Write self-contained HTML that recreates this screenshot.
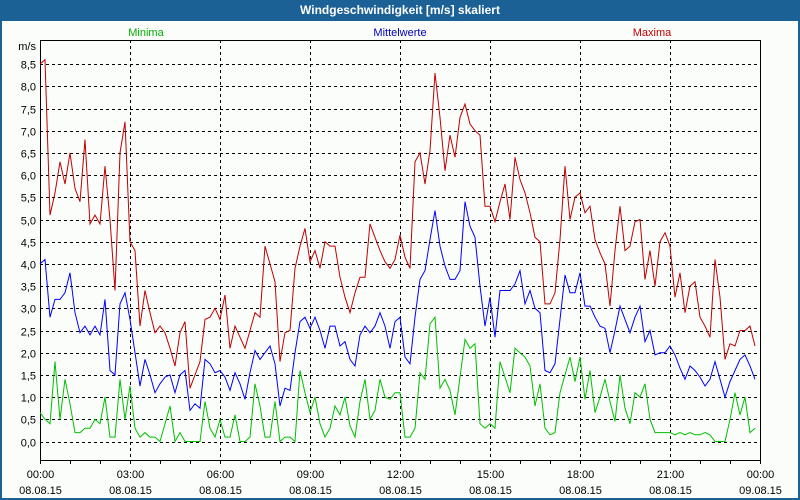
<!DOCTYPE html>
<html><head><meta charset="utf-8"><style>
html,body{margin:0;padding:0;background:#fff}
#wrap{position:relative;width:800px;height:500px;overflow:hidden;background:#fbfdfb;box-sizing:border-box;border:2px solid #1c6196;border-top:none}
#title{position:absolute;left:-2px;top:0;width:800px;height:21px;background:#1c6196;color:#fff;font:bold 12px "Liberation Sans",sans-serif;text-align:center;line-height:21px}
svg{position:absolute;left:-2px;top:0}
text{font-family:"Liberation Sans",sans-serif;font-size:11px}
</style></head><body>
<div id="wrap">
<div id="title">Windgeschwindigkeit [m/s] skaliert</div>
<svg id="chart" width="800" height="500"></svg>
</div>
<script>
const yTicks=[0,0.5,1,1.5,2,2.5,3,3.5,4,4.5,5,5.5,6,6.5,7,7.5,8,8.5];
const xTickHours=[0,3,6,9,12,15,18,21,24];
const xTickTimes=["00:00","03:00","06:00","09:00","12:00","15:00","18:00","21:00","00:00"];
const xTickDates=["08.08.15","08.08.15","08.08.15","08.08.15","08.08.15","08.08.15","08.08.15","08.08.15","09.08.15"];
const stepMinutes=10;
const maxima=[8.5,8.6,5.1,5.6,6.3,5.8,6.5,5.7,5.4,6.8,4.9,5.1,4.9,6.2,5.0,3.4,6.5,7.2,4.5,4.3,2.6,3.4,2.9,2.45,2.6,2.45,2.1,1.7,2.45,2.7,1.2,1.5,1.8,2.75,2.8,3.0,2.75,3.3,2.1,2.6,2.35,2.1,2.5,2.9,2.8,4.4,4.0,3.6,1.8,2.45,2.5,3.9,4.4,4.8,4.05,4.3,3.9,4.5,4.4,4.4,3.7,3.25,2.9,3.35,3.7,3.7,4.9,4.6,4.3,4.05,3.9,4.1,4.65,4.15,3.9,6.3,6.5,5.8,6.55,8.3,7.3,6.1,6.9,6.4,7.3,7.6,7.15,7.0,6.9,5.3,5.3,4.95,5.4,5.8,5.0,6.4,5.9,5.6,5.15,4.6,4.5,3.1,3.1,3.35,4.55,6.2,5.0,5.5,5.6,5.15,5.3,4.55,4.25,4.0,3.05,4.3,5.3,4.3,4.4,4.95,5.0,3.65,4.3,3.5,4.5,4.7,4.4,3.25,3.8,2.9,3.5,3.6,2.8,2.6,2.35,4.1,3.25,1.85,2.2,2.15,2.5,2.5,2.6,2.15];
const mittelwerte=[4.0,4.1,2.8,3.2,3.2,3.35,3.8,2.9,2.45,2.6,2.4,2.6,2.4,3.2,1.6,1.5,3.1,3.35,2.75,2.0,1.25,1.85,1.5,1.1,1.3,1.45,1.5,1.1,1.5,1.6,0.7,0.85,0.75,1.85,1.75,1.55,1.6,1.45,1.15,1.55,1.3,0.95,1.55,2.05,1.85,2.0,2.15,1.75,0.8,1.2,1.15,2.0,2.7,2.8,2.55,2.8,2.5,2.1,2.6,2.6,2.15,2.25,1.85,1.7,2.4,2.6,2.45,2.6,2.9,2.6,2.1,2.7,2.8,1.9,1.75,2.8,3.65,3.85,4.55,5.2,4.4,3.95,3.65,3.65,3.85,5.4,4.85,4.6,3.5,2.6,3.25,2.35,3.4,3.4,3.4,3.55,3.85,3.1,3.4,3.0,2.9,1.6,1.55,1.75,2.75,3.75,3.35,3.35,3.8,3.05,3.05,2.8,2.6,2.55,2.0,2.5,3.05,2.75,2.45,2.8,3.05,2.25,2.5,1.95,2.0,2.0,2.15,1.95,1.65,1.4,1.7,1.6,1.45,1.25,1.4,1.8,1.4,1.0,1.35,1.6,1.85,1.95,1.7,1.4];
const minima=[0.65,0.5,0.4,1.8,0.5,1.4,0.85,0.2,0.2,0.3,0.3,0.5,0.4,1.0,0.1,0.1,1.4,0.5,1.25,0.3,0.1,0.2,0.1,0.1,0.0,0.4,0.8,0.0,0.2,0.0,0,0,0,0.9,0.3,0.1,0.5,0.1,0.1,0.6,0,0,0.1,1.3,0.8,0.1,0.1,0.9,0.0,0.1,0.1,0.0,1.6,1.1,0.65,1.0,0.4,0.1,0.3,0.8,0.6,1.0,0.35,0.1,0.9,1.4,0.5,0.7,1.4,1.0,0.95,1.1,1.1,0.1,0.1,0.3,1.55,1.4,2.65,2.8,1.2,1.4,1.15,0.6,1.45,2.3,2.1,2.2,0.4,0.3,0.4,0.3,1.8,1.45,1.1,2.1,2.0,1.9,1.7,0.8,1.3,0.3,0.15,0.2,1.1,1.5,1.9,1.35,1.9,0.95,1.6,0.65,1.0,1.4,0.9,0.45,1.5,0.75,0.4,1.1,1.0,1.3,0.5,0.2,0.2,0.2,0.2,0.15,0.2,0.15,0.2,0.15,0.15,0.2,0.15,0.0,0.0,0.0,0.5,1.1,0.6,1.0,0.2,0.3];

const NS="http://www.w3.org/2000/svg";
const svg=document.getElementById('chart');
const X0=40,X1=760,Y0=40,Y1=460;
function xScale(h){return X0+(X1-X0)*h/24;}
function yScale(v){return 441.5-v*44.4;}
function mk(tag,attrs,parent){const e=document.createElementNS(NS,tag);for(const k in attrs)e.setAttribute(k,attrs[k]);(parent||svg).appendChild(e);return e;}

// horizontal grid + y labels
yTicks.forEach(v=>{
  const y=Math.round(yScale(v))+0.5;
  const g=mk('line',{x1:X0,x2:X1,y1:y,y2:y,stroke:'#000','stroke-dasharray':'3,3','stroke-width':1});
  
  
  const t=mk('text',{x:36,y:y+4,'text-anchor':'end',fill:'#000'});
  t.textContent=v.toFixed(1).replace('.',',');
  
  
});
// vertical grid, ticks, labels
for(let h=0;h<=24;h++){
  const x=Math.round(xScale(h))+0.5;
  const tk=mk('line',{x1:x,x2:x,y1:Y1,y2:Y1+4,stroke:'#000'});
  
  
}
xTickHours.forEach((h,i)=>{
  const x=Math.round(xScale(h))+0.5;
  if(h>0&&h<24){
    const g=mk('line',{x1:x,x2:x,y1:Y0,y2:Y1,stroke:'#000','stroke-dasharray':'3,3'});
    
    
  }
  const t1=mk('text',{x:x,y:478,'text-anchor':'middle',fill:'#000'});
  t1.textContent=xTickTimes[i];
  
  
  const t2=mk('text',{x:x,y:494,'text-anchor':'middle',fill:'#000'});
  t2.textContent=xTickDates[i];
  
  
});
// plot frame
const fr=mk('rect',{x:X0+0.5,y:Y0+0.5,width:X1-X0,height:Y1-Y0,fill:'none',stroke:'#000'});


const unit=mk('text',{x:36,y:50,'text-anchor':'end',fill:'#000'});
unit.textContent='m/s';


// series
function series(vals,color,name){
  const pts=vals.map((v,i)=>xScale(i*stepMinutes/60).toFixed(1)+','+yScale(v).toFixed(1)).join(' ');
  const p=mk('polyline',{points:pts,fill:'none',stroke:color,'stroke-width':1});
  
  
}
series(minima,'#00c000','series-minima');
series(mittelwerte,'#0000ff','series-mittelwerte');
series(maxima,'#c00000','series-maxima');
// legend
[['Minima','#00b000',146],['Mittelwerte','#0000c0',400],['Maxima','#c00000',652]].forEach(l=>{
  const t=mk('text',{x:l[2],y:36,'text-anchor':'middle',fill:l[1]});
  t.textContent=l[0];
  
  
});
</script>
</body></html>
